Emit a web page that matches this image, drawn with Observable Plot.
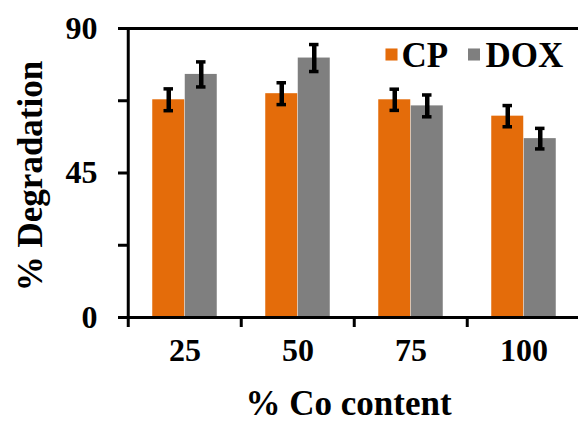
<!DOCTYPE html>
<html>
<head>
<meta charset="utf-8">
<script src="https://cdn.jsdelivr.net/npm/d3@7"></script>
<script src="https://cdn.jsdelivr.net/npm/@observablehq/plot@0.6"></script>
<style>
html, body { margin: 0; padding: 0; background: #fff; overflow: hidden; }
#chart svg { display: block; }
</style>
</head>
<body>
<div id="chart"></div>
<script>
// ---- data ----
const categories = ["25", "50", "75", "100"];
const seriesNames = ["CP", "DOX"];
const cpValues = [67.8, 69.7, 67.8, 62.7];
const cpErrors = [3.4, 3.4, 3.3, 3.3];
const doxValues = [75.7, 80.8, 65.9, 55.7];
const doxErrors = [3.9, 4.2, 3.4, 3.2];
const yTicks = [0, 22.5, 45, 67.5, 90];
const yLabels = [0, 45, 90];
const xTitle = "% Co content";
const yTitle = "% Degradation";
const colors = ["#E46C0A", "#7F7F7F"];

// ---- layout ----
const W = 578, H = 427, mL = 127, mR = -3, mT = 28, mB = 110;
const yDomain = [0, 90];
const bw = (W - mL - mR) / categories.length;
const half = bw / 2;
const barW = 32.5;
const capW = 10;
const font = "'Liberation Serif', 'Times New Roman', Times, serif";

const cpData = categories.map((c, i) => ({cat: c, value: cpValues[i], err: cpErrors[i]}));
const doxData = categories.map((c, i) => ({cat: c, value: doxValues[i], err: doxErrors[i]}));

function seriesMarks(data, color, side) {
  return [
    Plot.barY(data, {
      x: "cat", y: "value", fill: color,
      insetLeft: side < 0 ? half - barW : half,
      insetRight: side < 0 ? half : half - barW
    })
  ];
}
function errorMarks(data, side) {
  const center = half + side * barW / 2;
  const capOpts = {
    x: "cat", stroke: "black", strokeWidth: 3.5,
    insetLeft: center - capW / 2, insetRight: bw - center - capW / 2
  };
  return [
    Plot.ruleX(data, {x: "cat", y1: d => d.value - d.err, y2: d => d.value + d.err,
      dx: side * barW / 2, stroke: "black", strokeWidth: 4.5}),
    Plot.tickY(data, {...capOpts, y: d => d.value - d.err}),
    Plot.tickY(data, {...capOpts, y: d => d.value + d.err})
  ];
}

const chart = Plot.plot({
  width: W, height: H,
  marginLeft: mL, marginRight: mR, marginTop: mT, marginBottom: mB,
  x: {type: "band", domain: categories, padding: 0, axis: null},
  y: {domain: yDomain, axis: null},
  style: {fontFamily: font, background: "#fff", color: "black"},
  marks: [
    ...seriesMarks(cpData, colors[0], -1),
    ...seriesMarks(doxData, colors[1], 1),
    // y ticks
    Plot.ruleY(yTicks, {y: d => d, insetLeft: -9, insetRight: W - mL - mR, stroke: "black", strokeWidth: 3}),
    // top and bottom frame lines
    Plot.ruleY(yDomain, {y: d => d, stroke: "black", strokeWidth: 3}),
    // left axis line
    Plot.ruleX([categories[0]], {x: d => d, dx: -half, insetBottom: -10, stroke: "black", strokeWidth: 3}),
    // category boundary ticks
    Plot.ruleX(categories.slice(1), {x: d => d, dx: -half, y1: d => 0, y2: d => 0, insetBottom: -10, stroke: "black", strokeWidth: 3}),
    ...errorMarks(cpData, -1),
    ...errorMarks(doxData, 1),
    // tick labels
    Plot.text(categories, {x: d => d, text: d => d, frameAnchor: "bottom", dy: 43, fontSize: 32, fontWeight: "bold", fill: "black"}),
    Plot.text(yLabels, {y: d => d, text: d => String(d), frameAnchor: "left", dx: -30, textAnchor: "end", fontSize: 32, fontWeight: "bold", fill: "black"}),
    // axis titles
    Plot.text([yTitle], {text: d => d, y: () => d3.mean(yDomain), frameAnchor: "left", textAnchor: "middle", dx: -97, dy: 3, rotate: -90, fontSize: 35, fontWeight: "bold", fill: "black"}),
    Plot.text([xTitle], {text: d => d, frameAnchor: "bottom", textAnchor: "middle", dx: -6, dy: 97, fontSize: 35, fontWeight: "bold", fill: "black"}),
    // legend
    Plot.dot([seriesNames[0]], {frameAnchor: "top-left", dx: 264, dy: 26, symbol: "square", r: 6.8, fill: colors[0]}),
    Plot.text([seriesNames[0]], {text: d => d, frameAnchor: "top-left", dx: 274, dy: 27, textAnchor: "start", lineAnchor: "middle", fontSize: 35, fontWeight: "bold", fill: "black"}),
    Plot.dot([seriesNames[1]], {frameAnchor: "top-left", dx: 346.5, dy: 26, symbol: "square", r: 6.8, fill: colors[1]}),
    Plot.text([seriesNames[1]], {text: d => d, frameAnchor: "top-left", dx: 358, dy: 27, textAnchor: "start", lineAnchor: "middle", fontSize: 35, fontWeight: "bold", fill: "black"})
  ]
});
document.getElementById("chart").appendChild(chart);
</script>
</body>
</html>
